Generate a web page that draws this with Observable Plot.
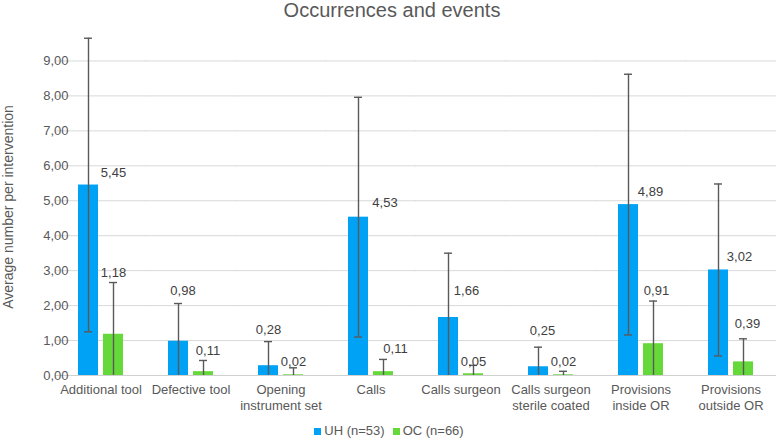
<!DOCTYPE html>
<html>
<head>
<meta charset="utf-8">
<script src="https://cdn.jsdelivr.net/npm/d3@7"></script>
<script src="https://cdn.jsdelivr.net/npm/@observablehq/plot@0.6"></script>
<style>
  html, body { margin: 0; padding: 0; background: #fff; }
  body { width: 778px; height: 441px; overflow: hidden; font-family: "Liberation Sans", Arial, sans-serif; position: relative; }
  #title { height: 20px; line-height: 20px; font-size: 20px; color: #595959; text-align: center; padding-left: 6px; }
  #ylabel { position: absolute; left: 8px; top: 207px; transform: translate(-50%, -50%) rotate(-90deg); white-space: nowrap; font-size: 14px; color: #595959; line-height: 16px; }
  #legend { height: 21px; padding-top: 4px; line-height: 21px; font-size: 13px; color: #595959; text-align: center; }
  #legend span.sw { display: inline-block; width: 7px; height: 7px; margin-right: 3px; vertical-align: 0px; }
  #legend span.item { margin: 0 4px; }
</style>
</head>
<body>
<div id="title">Occurrences and events</div>
<div id="chart"></div>
<div id="legend"></div>
<div id="ylabel"></div>
<script>
const categories = ["Additional tool", "Defective tool", "Opening\ninstrument set", "Calls", "Calls surgeon", "Calls surgeon\nsterile coated", "Provisions\ninside OR", "Provisions\noutside OR"];
const seriesNames = ["UH", "OC"];
const seriesLabels = ["UH (n=53)", "OC (n=66)"];
const seriesColors = ["#00a2f6", "#66d93a"];
const uh = [5.45, 0.98, 0.28, 4.53, 1.66, 0.25, 4.89, 3.02];
const oc = [1.18, 0.11, 0.02, 0.11, 0.05, 0.02, 0.91, 0.39];
const uhSD = [4.20, 1.08, 0.69, 3.43, 1.84, 0.56, 3.73, 2.46];
const ocSD = [1.48, 0.32, 0.20, 0.35, 0.24, 0.10, 1.22, 0.66];
// where each data label sits in the reference (value units), and its sideways shift
const uhLabelAt = [5.79, 2.41, 1.32, 4.94, 2.41, 1.29, 5.25, 3.39];
const ocLabelAt = [2.95, 0.72, 0.40, 0.76, 0.40, 0.40, 2.42, 1.49];
const uhLabelShift = [25, 4.5, 0, 26.5, 18, 4, 22, 21];
const ocLabelShift = [0, 4.5, 0, 12, 0, 0, 3, 4];
const yTicks = [0, 1, 2, 3, 4, 5, 6, 7, 8, 9];
const yLabel = "Average number per intervention";

const rows = categories.flatMap((c, i) => [
  {cat: c, series: "UH", value: uh[i], sd: uhSD[i], ly: uhLabelAt[i], shift: uhLabelShift[i]},
  {cat: c, series: "OC", value: oc[i], sd: ocSD[i], ly: ocLabelAt[i], shift: ocLabelShift[i]}
]);
rows.forEach(r => { r.lo = Math.max(0, r.value - r.sd); r.hi = r.value + r.sd; });

const fmt = d => d.toFixed(2).replace(".", ",");

const W = 778, ML = 53, MR = 1;
const step = (W - ML - MR) / categories.length; // band step of fx (paddingInner .5, paddingOuter .25)
const halfGap = step * 0.25;

const labelMarks = rows.map(r => Plot.text([r], {
  fx: "cat", x: "series", y: "ly", text: d => fmt(d.value),
  dx: r.shift, fill: "#404040", fontSize: 13
}));

const chart = Plot.plot({
  width: W,
  height: 396,
  marginLeft: ML,
  marginRight: MR,
  marginTop: 16,
  marginBottom: 41,
  style: {fontFamily: "'Liberation Sans', Arial, sans-serif", fontSize: "13px", color: "#595959", background: "#fff"},
  fx: {domain: categories, paddingInner: 0.5, paddingOuter: 0.25},
  x: {domain: seriesNames, paddingInner: 0.2, paddingOuter: 0, axis: null},
  y: {domain: [0, 9.7]},
  color: {domain: seriesNames, range: seriesColors},
  marks: [
    Plot.ruleY(yTicks.slice(1), {stroke: "#d9d9d9", strokeWidth: 1, insetLeft: -halfGap - 0.3, insetRight: -halfGap - 0.3}),
    Plot.ruleY([0], {stroke: "#d0d0d0", strokeWidth: 1, insetLeft: -halfGap - 0.3, insetRight: -halfGap - 0.3}),
    Plot.barY(rows, {fx: "cat", x: "series", y: "value", fill: "series"}),
    Plot.ruleX(rows, {fx: "cat", x: "series", y1: "lo", y2: "hi", stroke: "#595959", strokeWidth: 1.4}),
    Plot.tickY(rows, {fx: "cat", x: "series", y: "hi", stroke: "#595959", strokeWidth: 1.4, insetLeft: 6, insetRight: 6}),
    Plot.tickY(rows.filter(r => r.value - r.sd > 0), {fx: "cat", x: "series", y: "lo", stroke: "#595959", strokeWidth: 1.4, insetLeft: 6, insetRight: 6}),
    ...labelMarks,
    Plot.axisY({ticks: yTicks, tickFormat: fmt, tickSize: 0, tickPadding: 10, fontSize: 13, label: null}),
    Plot.axisFx({anchor: "bottom", tickSize: 0, tickPadding: 6, label: null, lineHeight: 1.3, fontSize: 13})
  ]
});
document.getElementById("chart").appendChild(chart);
document.getElementById("ylabel").textContent = yLabel;

const legend = document.getElementById("legend");
seriesLabels.forEach((lab, i) => {
  const item = document.createElement("span");
  item.className = "item";
  const sw = document.createElement("span");
  sw.className = "sw";
  sw.style.background = seriesColors[i];
  item.appendChild(sw);
  item.appendChild(document.createTextNode(lab));
  legend.appendChild(item);
});
</script>
</body>
</html>
